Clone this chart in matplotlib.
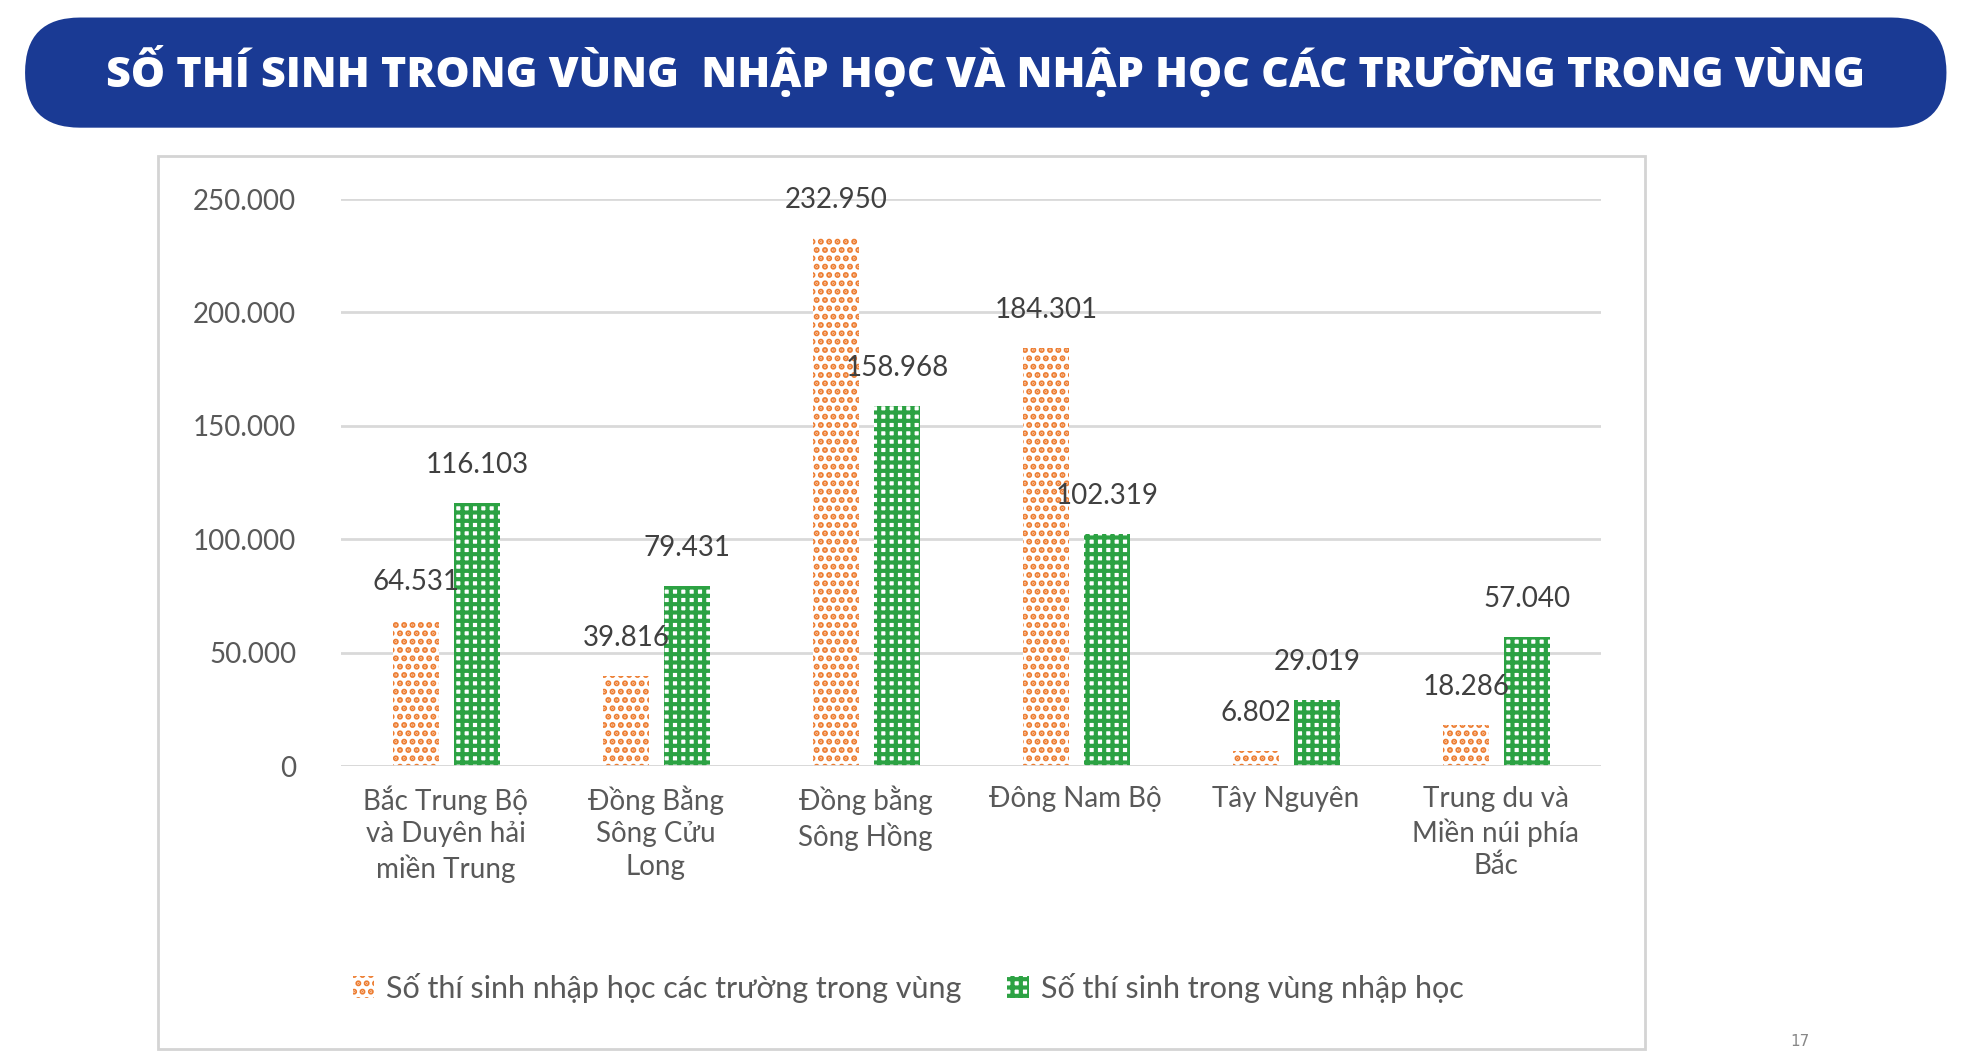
import matplotlib
matplotlib.use("Agg")
import matplotlib.pyplot as plt
from matplotlib.patches import FancyBboxPatch, Rectangle
import numpy as np

categories = ["Bắc Trung Bộ\nvà Duyên hải\nmiền Trung", "Đồng Bằng\nSông Cửu\nLong", "Đồng bằng\nSông Hồng",
              "Đông Nam Bộ", "Tây Nguyên", "Trung du và\nMiền núi phía\nBắc"]
series_orange = [64531, 39816, 232950, 184301, 6802, 18286]
series_green = [116103, 79431, 158968, 102319, 29019, 57040]
name_orange = "Số thí sinh nhập học các trường trong vùng"
name_green = "Số thí sinh trong vùng nhập học"
yticks = [0, 50000, 100000, 150000, 200000, 250000]

W, H = 1568, 850
def fx(x): return x / W
def fy(y): return 1 - y / H

plt.rcParams["hatch.linewidth"] = 3.0
fig = plt.figure(figsize=(19.64, 10.64), dpi=100)
fig.patch.set_facecolor("white")

# title banner
fig.patches.append(FancyBboxPatch((fx(20), fy(102)), fx(1534), fy(14) - fy(102),
                                  boxstyle="round,pad=0,rounding_size=0.028", transform=fig.transFigure,
                                  facecolor="#1a3a94", edgecolor="none", mutation_aspect=1.85, zorder=0))
fig.text(fx(787), fy(57), "SỐ THÍ SINH TRONG VÙNG  NHẬP HỌC VÀ NHẬP HỌC CÁC TRƯỜNG TRONG VÙNG",
         ha="center", va="center", color="white", fontsize=31, fontweight="heavy", family="Open Sans")
# chart frame
fig.patches.append(Rectangle((fx(126), fy(838)), fx(1187), fy(125) - fy(838), transform=fig.transFigure,
                             facecolor="white", edgecolor="#d4d4d4", linewidth=2, zorder=0))
fig.text(fx(1437), fy(832), "17", ha="center", va="center", color="#888888", fontsize=11)

ax = fig.add_axes([fx(272), fy(612), fx(1278) - fx(272), fy(159) - fy(612)])
ax.set_zorder(5)
ax.set_facecolor("none")
x = np.arange(len(categories))
w = 0.22
ax.bar(x - 0.14, series_orange, w, facecolor="white", edgecolor="#ed7d31", hatch="..", linewidth=0, label=name_orange)
ax.bar(x + 0.15, series_green, w, facecolor="white", edgecolor="#2ca243", hatch="++", linewidth=0, label=name_green)
fmt = lambda v: f"{v:,}".replace(",", ".")
for i in range(len(x)):
    ax.annotate(fmt(series_orange[i]), (x[i] - 0.14, series_orange[i]), xytext=(0, 18), textcoords="offset points",
                ha="center", va="bottom", fontsize=20, color="#404040", family="Lato")
    ax.annotate(fmt(series_green[i]), (x[i] + 0.15, series_green[i]), xytext=(0, 18), textcoords="offset points",
                ha="center", va="bottom", fontsize=20, color="#404040", family="Lato")
ax.set_xlim(-0.5, 5.5)
ax.set_ylim(0, 250000)
ax.set_yticks(yticks)
ax.set_yticklabels([fmt(v) for v in yticks], fontsize=20, color="#595959", family="Lato")
ax.set_xticks(x)
ax.set_xticklabels(categories, fontsize=20, color="#595959", family="Lato", linespacing=1.3)
ax.tick_params(length=0, pad=14)
ax.tick_params(axis="y", pad=32)
ax.grid(axis="y", color="#d9d9d9", linewidth=2)
ax.set_axisbelow(True)
for s in ax.spines.values():
    s.set_visible(False)
ax.axhline(0, color="#d9d9d9", linewidth=2)
leg = fig.legend(loc="center", bbox_to_anchor=(fx(725), fy(789)), ncol=2, frameon=False,
                 prop={"family": "Lato", "size": 22}, handlelength=0.7, handleheight=0.7,
                 handletextpad=0.4, columnspacing=1.5)
leg.set_zorder(6)
for t in leg.get_texts():
    t.set_color("#595959")
fig.savefig("out.png", dpi=100)
